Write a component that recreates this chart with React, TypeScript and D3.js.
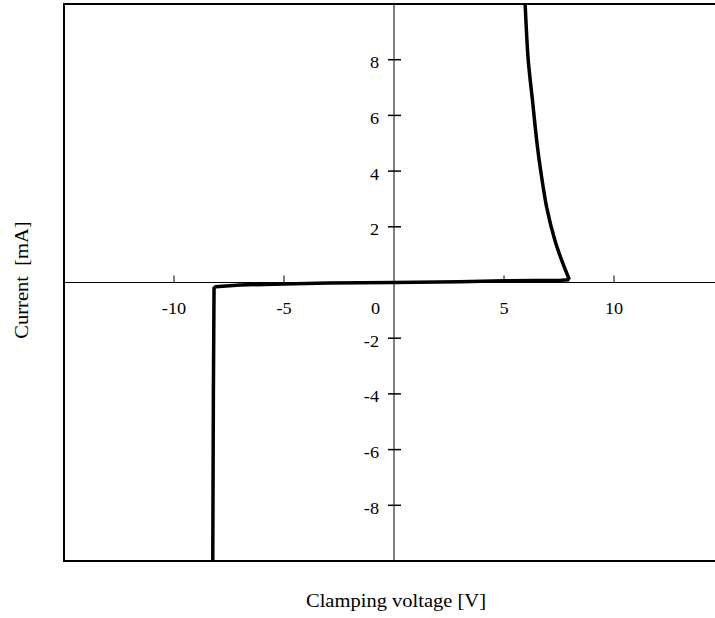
import React from "react";
import * as d3 from "d3";

// Reverse / leakage branch (drawn with straight segments, sharp knee)
const leakVoltage = [-8.24, -8.21, -8.18, -8.1, -7, -5, -3, 0, 3, 5, 7.6, 7.97];
const leakCurrent = [-10.5, -4, -0.2, -0.15, -0.09, -0.05, -0.02, 0, 0.03, 0.06, 0.08, 0.1];
// Forward branch (smooth)
const fwdVoltage = [7.97, 7.62, 7.32, 6.94, 6.67, 6.5, 6.3, 6.1, 5.96, 5.93];
const fwdCurrent = [0.1, 0.8, 1.5, 2.7, 4, 5, 6.5, 8, 10, 10.5];
const xTicks = [-10, -5, 0, 5, 10];
const yTicks = [-8, -6, -4, -2, 2, 4, 6, 8];
const xTitle = "Clamping voltage [V]";
const yTitle = "Current  [mA]";

const W = 715;
const H = 618;
const FONT = "'Liberation Serif', 'Times New Roman', serif";
const SX = 1.14;

export default function App() {
  const x = d3.scaleLinear().domain([-15, 15]).range([64, 724]);
  const y = d3.scaleLinear().domain([-10, 10]).range([561, 4]);
  const leak: [number, number][] = leakVoltage.map((v, i) => [v, leakCurrent[i]]);
  const fwd: [number, number][] = fwdVoltage.map((v, i) => [v, fwdCurrent[i]]);
  const lineLin = d3
    .line<[number, number]>()
    .x((d) => x(d[0]))
    .y((d) => y(d[1]))
    .curve(d3.curveLinear);
  const lineSmooth = d3
    .line<[number, number]>()
    .x((d) => x(d[0]))
    .y((d) => y(d[1]))
    .curve(d3.curveCatmullRom.alpha(0.5));
  const x0 = x(0);
  const y0 = y(0);
  return (
    <div style={{ position: "absolute", left: 0, top: 0 }}>
      <svg width={W} height={H} style={{ display: "block", background: "#fff" }}>
        <defs>
          <clipPath id="plot">
            <rect x={64} y={4} width={660} height={557} />
          </clipPath>
        </defs>
        <rect x={64} y={4} width={660} height={557} fill="none" stroke="#000" strokeWidth={2} />
        <line x1={64} x2={724} y1={y0} y2={y0} stroke="#000" strokeWidth={1.2} />
        <line x1={x0} x2={x0} y1={4} y2={561} stroke="#000" strokeWidth={1} />
        {xTicks.map((t) => (
          <g key={"x" + t}>
            {t !== 0 && <line x1={x(t)} x2={x(t)} y1={y0 - 7} y2={y0} stroke="#000" strokeWidth={1} />}
            <text
              transform={`translate(${t === 0 ? 380 : x(t)},${y0 + 31}) scale(${SX},1)`}
              textAnchor={t === 0 ? "end" : "middle"}
              fontFamily={FONT}
              fontSize={16}
              fill="#000"
            >
              {t}
            </text>
          </g>
        ))}
        {yTicks.map((t) => (
          <g key={"y" + t}>
            <line x1={x0 - 6} x2={x0 + 7} y1={y(t)} y2={y(t)} stroke="#000" strokeWidth={1.5} />
            <text
              transform={`translate(${x0 - 15},${y(t) + 8.5}) scale(${SX},1)`}
              textAnchor="end"
              fontFamily={FONT}
              fontSize={16}
              fill="#000"
            >
              {t}
            </text>
          </g>
        ))}
        <g clipPath="url(#plot)">
          <path d={lineLin(leak) || ""} fill="none" stroke="#000" strokeWidth={3.5} strokeLinejoin="miter" />
          <path d={lineSmooth(fwd) || ""} fill="none" stroke="#000" strokeWidth={3.5} strokeLinejoin="round" />
        </g>
        <text
          transform={`translate(396,607) scale(${SX},1)`}
          textAnchor="middle"
          fontFamily={FONT}
          fontSize={18}
          fill="#000"
        >
          {xTitle}
        </text>
        <text
          transform={`translate(28,280) rotate(-90) scale(${SX},1)`}
          textAnchor="middle"
          fontFamily={FONT}
          fontSize={18}
          fill="#000"
          style={{ whiteSpace: "pre" }}
        >
          {yTitle}
        </text>
      </svg>
    </div>
  );
}
